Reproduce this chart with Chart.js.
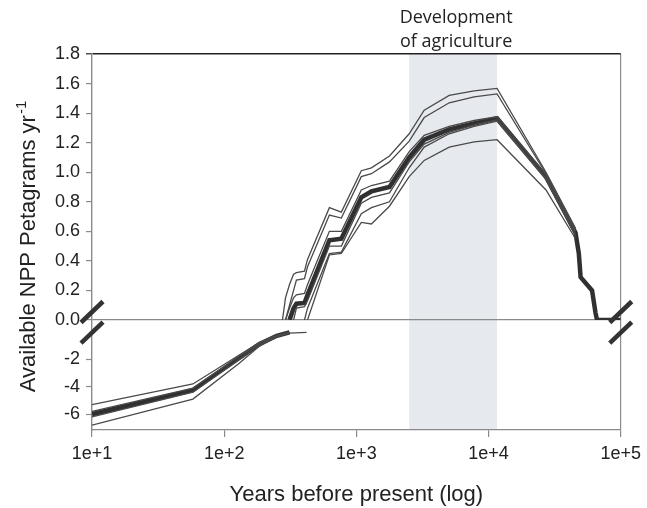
<!DOCTYPE html>
<html>
<head>
<meta charset="utf-8">
<script src="https://cdn.jsdelivr.net/npm/chart.js@4.4.0/dist/chart.umd.min.js"></script>
<style>
  body { margin: 0; background: #fff; }
</style>
</head>
<body>
<canvas id="nppChart" width="647" height="508"></canvas>
<script>
// x axis: years before present (log), decade ticks only
const xTicks = [10, 100, 1000, 10000, 100000];
const upperTicks = [0, 0.2, 0.4, 0.6, 0.8, 1.0, 1.2, 1.4, 1.6, 1.8];
const lowerTicks = [-6, -4, -2];
const agriBand = [2510, 11600];   // shaded "development of agriculture" period

// upper (positive) part of the broken axis
const upYears = [276, 291, 312, 335, 352, 405, 427, 625, 770, 1090, 1300, 1780, 2510, 3260, 5040, 7780, 11600, 27200, 45500, 48200, 49700, 60700, 64400, 66200, 100000];
const upMean   = [null, null, 0, 0.08, 0.11, 0.115, 0.17, 0.54, 0.55, 0.83, 0.87, 0.90, 1.10, 1.22, 1.29, 1.33, 1.365, 0.97, 0.59, 0.45, 0.29, 0.20, 0.05, 0, 0];
const upTop    = [0, 0.15, 0.24, 0.31, 0.32, 0.33, 0.41, 0.76, 0.73, 1.01, 1.03, 1.11, 1.26, 1.42, 1.52, 1.55, 1.567, 1.0, 0.62];
const upTop2   = [null, 0, 0.10, 0.2, 0.27, 0.28, 0.36, 0.71, 0.69, 0.97, 0.99, 1.07, 1.21, 1.37, 1.47, 1.51, 1.53, 0.99, 0.61];
const upAbove  = [null, 0, 0.08, 0.15, 0.17, 0.18, 0.24, 0.6, 0.6, 0.88, 0.91, 0.94, 1.14, 1.25, 1.31, 1.35, 1.375, 0.98, 0.60];
const upBelow  = [null, null, null, 0, 0.08, 0.09, 0.13, 0.5, 0.5, 0.79, 0.83, 0.86, 1.07, 1.19, 1.27, 1.32, 1.355, 0.96, 0.58];
const upBelow2 = [null, null, null, null, null, 0, 0.08, 0.45, 0.46, 0.72, 0.76, 0.80, 1.03, 1.17, 1.26, 1.31, 1.345, 0.95, 0.57];
const upBottom = [null, null, null, null, null, null, 0, 0.44, 0.45, 0.66, 0.65, 0.77, 0.97, 1.08, 1.17, 1.205, 1.22, 0.88, 0.55];

// lower (negative) part of the broken axis
const lowYears  = [10, 58, 130, 185, 250, 312, 420];
const lowMean   = [-6.0, -4.25, -1.9, -0.9, -0.3, -0.05, null];
const lowTop    = [-5.3, -3.8, -1.7, -0.8, -0.25, -0.05, null];
const lowAbove  = [-5.8, -4.1, -1.8, -0.85, -0.28, -0.05, null];
const lowBelow  = [-6.2, -4.4, -2.0, -0.95, -0.33, -0.07, null];
const lowBottom = [-6.8, -4.9, -2.3, -1.05, -0.38, -0.1, -0.05];

const AXIS_GREY = '#8a8a8a';
const TEXT = '#222';

function pts(years, vals) {
    return years.map((t, i) => ({ x: t, y: i < vals.length ? vals[i] : null }));
}

function thin(vals, years, axis) {
    return { data: pts(years, vals), yAxisID: axis, borderColor: '#4a4a4a', borderWidth: 1.3 };
}

function thick(vals, years, axis) {
    return { data: pts(years, vals), yAxisID: axis, borderColor: '#303030', borderWidth: 4.5 };
}

const datasets = [
    thin(lowTop, lowYears, 'yLow'),
    thin(lowAbove, lowYears, 'yLow'),
    thin(lowBelow, lowYears, 'yLow'),
    thin(lowBottom, lowYears, 'yLow'),
    thick(lowMean, lowYears, 'yLow'),
    thin(upTop, upYears, 'yUp'),
    thin(upTop2, upYears, 'yUp'),
    thin(upAbove, upYears, 'yUp'),
    thin(upBelow, upYears, 'yUp'),
    thin(upBelow2, upYears, 'yUp'),
    thin(upBottom, upYears, 'yUp'),
    thick(upMean, upYears, 'yUp')
];

const tickFont = { family: 'Liberation Sans', size: 18 };

// grey band behind everything
const bandPlugin = {
    id: 'agriBand',
    beforeDraw(chart) {
        const { ctx, chartArea, scales } = chart;
        const x0 = scales.x.getPixelForValue(agriBand[0]);
        const x1 = scales.x.getPixelForValue(agriBand[1]);
        ctx.save();
        ctx.fillStyle = '#e6e9ee';
        ctx.fillRect(x0, chartArea.top, x1 - x0, chartArea.bottom - chartArea.top);
        ctx.restore();
    }
};

// axis break marks, band caption and rotated y title
const decorPlugin = {
    id: 'decor',
    afterDraw(chart) {
        const { ctx, scales } = chart;
        const yUp0 = scales.yUp.getPixelForValue(0);
        const yLow0 = scales.yLow.getPixelForValue(0);
        ctx.save();
        ctx.strokeStyle = '#333';
        ctx.lineWidth = 4.5;
        [scales.x.getPixelForValue(10), scales.x.getPixelForValue(100000)].forEach(px => {
            [yUp0 - 8, yLow0 + 1].forEach(cy => {
                ctx.beginPath();
                ctx.moveTo(px - 11, cy + 10.5);
                ctx.lineTo(px + 11, cy - 10.5);
                ctx.stroke();
            });
        });

        // caption over the band
        const bx = (scales.x.getPixelForValue(agriBand[0]) + scales.x.getPixelForValue(agriBand[1])) / 2 + 3;
        ctx.fillStyle = TEXT;
        ctx.font = '18px "Open Sans"';
        ctx.textAlign = 'center';
        ctx.textBaseline = 'alphabetic';
        ctx.fillText('Development', bx, 23);
        ctx.fillText('of agriculture', bx, 47);

        // y title with superscript
        const main = 'Available NPP Petagrams yr';
        const sup = '-1';
        ctx.font = '22px "Liberation Sans"';
        const w1 = ctx.measureText(main).width;
        ctx.font = '15px "Liberation Sans"';
        const w2 = ctx.measureText(sup).width;
        ctx.translate(35, 247);
        ctx.rotate(-Math.PI / 2);
        ctx.textAlign = 'left';
        ctx.font = '22px "Liberation Sans"';
        ctx.fillText(main, -(w1 + w2) / 2, 0);
        ctx.font = '15px "Liberation Sans"';
        ctx.fillText(sup, -(w1 + w2) / 2 + w1 + 1, -9);
        ctx.restore();
    }
};

new Chart(document.getElementById('nppChart'), {
    type: 'line',
    data: { datasets: datasets },
    options: {
        responsive: false,
        animation: false,
        layout: { padding: { top: 54, right: 25, left: 0, bottom: 0 } },
        plugins: { legend: { display: false }, tooltip: { enabled: false } },
        elements: { point: { radius: 0 }, line: { tension: 0 } },
        scales: {
            x: {
                type: 'logarithmic',
                min: 10,
                max: 100000,
                afterBuildTicks: s => { s.ticks = xTicks.map(v => ({ value: v })); },
                afterFit: s => { s.height = 78; },
                ticks: {
                    callback: v => '1e+' + Math.round(Math.log10(v)),
                    font: tickFont, color: TEXT, padding: 6, maxRotation: 0, autoSkip: false
                },
                grid: {
                    color: c => (c.tick && c.tick.value === 100000) ? AXIS_GREY : 'rgba(0,0,0,0)',
                    lineWidth: 1.2, tickColor: AXIS_GREY, tickLength: 7, tickWidth: 1.2
                },
                border: { color: AXIS_GREY, width: 1.2 },
                title: {
                    display: true, text: 'Years before present (log)',
                    font: { family: 'Liberation Sans', size: 22 }, color: TEXT,
                    padding: { top: 6, bottom: 0 }
                }
            },
            yLow: {
                type: 'linear',
                position: 'left',
                stack: 'npp',
                stackWeight: 110,
                min: -7.15,
                max: 0.85,
                afterBuildTicks: s => { s.ticks = lowerTicks.map(v => ({ value: v })); },
                afterFit: s => { s.width = 92; },
                ticks: { callback: v => String(v), font: tickFont, color: TEXT, padding: 6, autoSkip: false },
                grid: { color: 'rgba(0,0,0,0)', tickColor: AXIS_GREY, tickLength: 6, tickWidth: 1.2 },
                border: { color: AXIS_GREY, width: 1.4 }
            },
            yUp: {
                type: 'linear',
                position: 'left',
                stack: 'npp',
                stackWeight: 266,
                min: 0,
                max: 1.8,
                afterBuildTicks: s => { s.ticks = upperTicks.map(v => ({ value: v })); },
                afterFit: s => { s.width = 92; },
                ticks: { callback: v => v.toFixed(1), font: tickFont, color: TEXT, padding: 6, autoSkip: false },
                grid: {
                    color: c => {
                        const v = c.tick ? c.tick.value : null;
                        if (v === 1.8) return '#222';
                        if (v === 0) return AXIS_GREY;
                        return 'rgba(0,0,0,0)';
                    },
                    lineWidth: c => (c.tick && c.tick.value === 1.8) ? 1.6 : 1.2,
                    tickColor: c => (c.tick && c.tick.value === 1.8) ? '#222' : AXIS_GREY,
                    tickLength: 6, tickWidth: 1.2
                },
                border: { color: AXIS_GREY, width: 1.4 }
            }
        }
    },
    plugins: [bandPlugin, decorPlugin]
});
</script>
</body>
</html>
